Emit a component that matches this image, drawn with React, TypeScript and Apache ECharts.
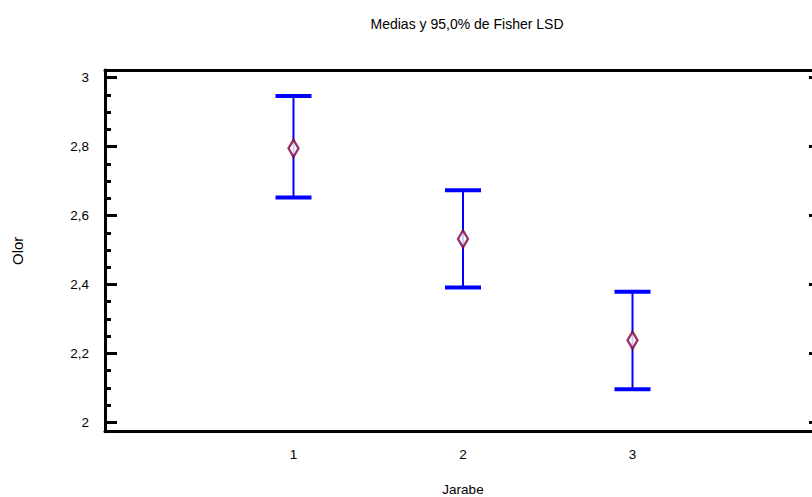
import React, { useEffect, useRef } from "react";
import * as echarts from "echarts";

const categories = [1, 2, 3];
const means = [2.795, 2.532, 2.238];
const lowerLimits = [2.652, 2.391, 2.096];
const upperLimits = [2.947, 2.673, 2.379];
const yMajorTicks = [2, 2.2, 2.4, 2.6, 2.8, 3];
const yMinorTicks = [
  2.05, 2.1, 2.15, 2.25, 2.3, 2.35, 2.45, 2.5, 2.55, 2.65, 2.7, 2.75, 2.85, 2.9, 2.95,
];

const FONT = "'Liberation Sans', Arial, sans-serif";
const Y_MIN = 1.9727;
const Y_MAX = 3.0223;
const X_MIN = -0.112;
const X_MAX = 4.112;

const fmt = (v: number) =>
  Number.isInteger(v) ? String(v) : v.toFixed(1).replace(".", ",");

export default function App() {
  const ref = useRef<HTMLDivElement>(null);
  useEffect(() => {
    if (!ref.current) return;
    const chart = echarts.init(ref.current, null, { renderer: "svg" });
    const barData = categories.map((c, i) => [c, lowerLimits[i], upperLimits[i]]);
    const pointData = categories.map((c, i) => [c, means[i]]);
    chart.setOption({
      animation: false,
      backgroundColor: "#ffffff",
      title: {
        text: "Medias y 95,0% de Fisher LSD",
        left: 462,
        top: 12,
        textAlign: "center",
        textStyle: { fontFamily: FONT, fontSize: 14, fontWeight: "normal", color: "#000" },
      },
      grid: {
        left: 105,
        top: 70,
        width: 716,
        height: 361.7,
        containLabel: false,
        outerBoundsMode: "none",
      },
      xAxis: [
        {
          type: "value",
          position: "bottom",
          min: X_MIN,
          max: X_MAX,
          name: "Jarabe",
          nameLocation: "middle",
          nameGap: 51,
          nameTextStyle: { fontFamily: FONT, fontSize: 13.5, color: "#000" },
          axisLine: { show: true, onZero: false, lineStyle: { color: "#000", width: 3 } },
          axisTick: { show: false },
          splitLine: { show: false },
          axisLabel: {
            customValues: categories,
            formatter: (v: number) => String(v),
            margin: 16,
            fontFamily: FONT,
            fontSize: 13.5,
            color: "#000",
          },
        },
        {
          type: "value",
          position: "top",
          min: X_MIN,
          max: X_MAX,
          axisLine: { show: true, onZero: false, lineStyle: { color: "#000", width: 3 } },
          axisTick: { show: false },
          axisLabel: { show: false },
          splitLine: { show: false },
        },
      ],
      yAxis: [
        {
          type: "value",
          position: "left",
          min: Y_MIN,
          max: Y_MAX,
          name: "Olor",
          nameLocation: "middle",
          nameGap: 80,
          nameTextStyle: { fontFamily: FONT, fontSize: 15, color: "#000" },
          axisLine: { show: true, onZero: false, lineStyle: { color: "#000", width: 3 } },
          axisTick: {
            show: true,
            inside: true,
            length: 12,
            customValues: yMajorTicks,
            lineStyle: { color: "#000", width: 3 },
          },
          axisLabel: {
            customValues: yMajorTicks,
            formatter: fmt,
            margin: 16,
            fontFamily: FONT,
            fontSize: 13.5,
            color: "#000",
          },
          splitLine: { show: false },
        },
        {
          type: "value",
          position: "left",
          min: Y_MIN,
          max: Y_MAX,
          axisLine: { show: false, onZero: false },
          axisTick: {
            show: true,
            inside: true,
            length: 6,
            customValues: yMinorTicks,
            lineStyle: { color: "#000", width: 3 },
          },
          axisLabel: { show: false },
          splitLine: { show: false },
        },
        {
          type: "value",
          position: "right",
          min: Y_MIN,
          max: Y_MAX,
          axisLine: { show: true, onZero: false, lineStyle: { color: "#000", width: 3 } },
          axisTick: {
            show: true,
            inside: true,
            length: 12,
            customValues: yMajorTicks,
            lineStyle: { color: "#000", width: 3 },
          },
          axisLabel: { show: false },
          splitLine: { show: false },
        },
      ],
      series: [
        {
          type: "custom",
          xAxisIndex: 0,
          yAxisIndex: 0,
          data: barData,
          renderItem: (params: any, api: any) => {
            const x = api.value(0);
            const lo = api.coord([x, api.value(1)]);
            const hi = api.coord([x, api.value(2)]);
            const half = 18;
            const style = { stroke: "#0000ff", lineWidth: 2 };
            const capStyle = { stroke: "#0000ff", lineWidth: 4 };
            return {
              type: "group",
              children: [
                { type: "line", shape: { x1: hi[0], y1: hi[1], x2: lo[0], y2: lo[1] }, style },
                { type: "line", shape: { x1: hi[0] - half, y1: hi[1], x2: hi[0] + half, y2: hi[1] }, style: capStyle },
                { type: "line", shape: { x1: lo[0] - half, y1: lo[1], x2: lo[0] + half, y2: lo[1] }, style: capStyle },
              ],
            };
          },
          z: 2,
        },
        {
          type: "scatter",
          xAxisIndex: 0,
          yAxisIndex: 0,
          data: pointData,
          symbol: "diamond",
          symbolSize: [10, 17],
          itemStyle: { color: "#ffffff", borderColor: "#800040", borderWidth: 2.5 },
          z: 3,
        },
      ],
    });
    return () => chart.dispose();
  }, []);
  return (
    <div
      ref={ref}
      style={{ position: "absolute", left: 0, top: 0, width: 812, height: 497 }}
    />
  );
}
